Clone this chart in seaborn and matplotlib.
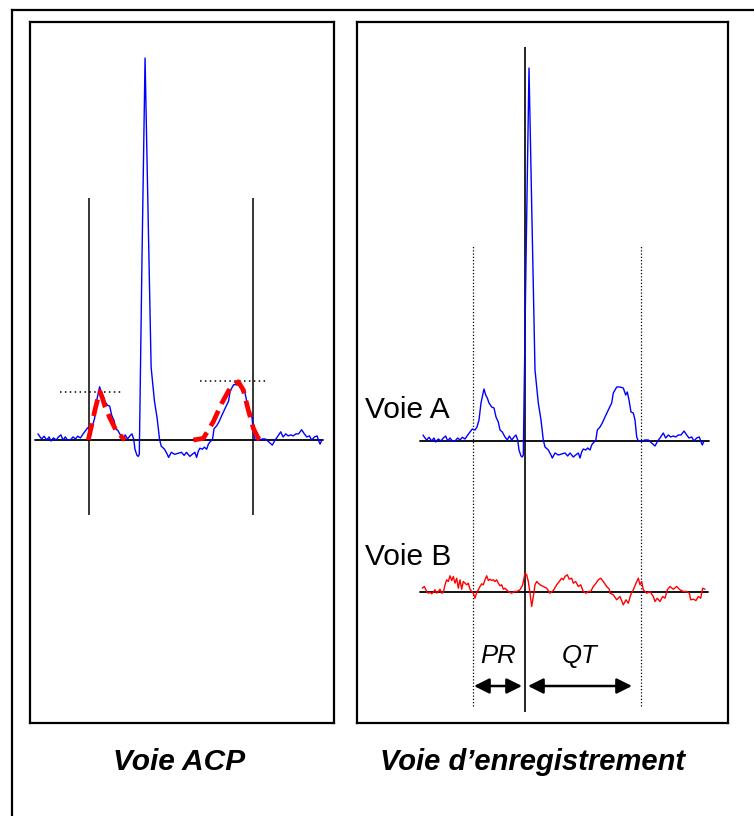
import matplotlib
matplotlib.use("Agg")
import matplotlib.pyplot as plt
import seaborn as sns
import pandas as pd
from matplotlib.lines import Line2D

sns.set_style("white")
plt.rcParams['font.family'] = ['Liberation Sans', 'DejaVu Sans']
plt.rcParams['text.color'] = 'black'

# ---------------- data ----------------
# ECG beat (Voie A / Voie ACP): time (px units) and amplitude (px units)
ecg_t = [0, 2, 3.7, 6, 8.7, 11, 12.7, 15.3, 18, 20.3, 22.7, 24.7, 27, 29.3, 32, 34.7,
         37, 39.3, 42, 44.7, 47, 49.3, 52, 54, 56, 58, 59.7, 61, 62.7, 64.3, 66, 68.7,
         71, 73, 75.3, 77, 79.3, 82, 84.3, 86.3, 88.7, 91, 93, 94.7, 96, 98, 99.3, 100.3,
         103, 106, 109, 112, 115.3, 118, 120.3, 122, 125.3, 128, 129.3, 132, 135.3, 138.7,
         142, 144.7, 147, 150.3, 152.7, 155.3, 157, 158.7, 160.3, 162.7, 164.7, 167, 168.7,
         171, 172.7, 174.3, 177, 179.3, 182, 185.3, 188.7, 190.3, 193.7, 197, 200.3, 202.7,
         204.3, 206, 208, 210.3, 212, 213.7, 215.3, 218.7, 222, 225.3, 228.7, 232, 234.7,
         237, 240.3, 242.7, 245.3, 247.7, 250.3, 252.7, 255.3, 258, 261, 263.7, 266, 268.7,
         271, 273.7, 276.3, 278, 279.3, 281]
ecg_a = [6, 3, 1, 3.7, 0, 3, -1, 2, 0, 3, 5, 0, 3, 0, 0, 3,
         1, 3.7, 2, 6, 9, 12, 11, 14, 21, 38, 46, 52, 46, 43, 38, 34,
         33, 24, 19, 11, 9, 4, 1, 5, 1, 4, 6, 1, -9, -15, -16, -14,
         180, 373, 220, 71, 38, 21, 1, -6, -9, -14, -17, -12, -14, -13,
         -12, -15, -12, -16, -14, -12, -17, -11, -8, -9, -7, -9, -4,
         -1, 0, 11, 14, 18, 24, 31, 38, 48, 54, 54, 53, 46,
         49, 41, 29, 28, 21, 4, 0, 0, 1, 1, -2, -5, 0,
         3, 8, 3, 6, 4, 5, 4, 6, 6, 10, 6, 3, 4,
         0, 3, 4, -1, -4, 0]

# Voie B (recording channel B)
voieB_t = [-0.7, 1.3, 3.7, 5.3, 7, 8.7, 10.3, 12, 13.7, 15.3, 17, 18.7, 20.3, 22, 23.7,
           25.3, 27, 28.7, 30.3, 32, 33.7, 35.3, 37, 38.7, 40.3, 42, 43.7, 45.3, 47, 48.7,
           50.3, 52, 53.7, 55.3, 57, 58.7, 60.3, 62, 63.7, 65.3, 67, 68.7, 70.3, 72, 73.7,
           75.3, 77, 78.7, 80.3, 82, 85.3, 88.7, 91.3, 93.7, 97, 99.7, 102, 103.7, 105.3,
           107, 108.7, 110.3, 112, 113.7, 115.3, 117, 120.3, 123.7, 127, 130.3, 133.7,
           136.3, 138.7, 140.3, 142, 144.3, 146.3, 148.7, 150.3, 152.7, 155.3, 157.7, 160.3,
           163, 165.3, 167.7, 170.3, 173, 175.3, 177.7, 180.3, 183.7, 186.3, 187, 190.3,
           193.7, 197, 200.3, 203, 205.3, 207.7, 210.3, 213, 215.3, 217, 218.7, 220.3,
           223.7, 227, 230.3, 232, 234.3, 237, 239.7, 242, 244.3, 247, 250.3, 253.7, 257,
           260.3, 263.7, 266.3, 267.7, 270.3, 273, 275.3, 277.7, 279.7, 282]
voieB_v = [3.3, 5, 0, -1.7, -0.7, -2.3, -0.7, 1.7, -1.7, 0, 2.3, -1.7, -1, 6.7, 11.7,
           10, 15.7, 11, 15, 8.3, 13.3, 3.3, 11.7, 2.3, 10, 8.3, 6.7, 8.3, 2.3, 0,
           -1.7, -6.7, -1, 1.7, 5, 7.7, 6.7, 11.7, 15.7, 11, 12.3, 11, 11.7, 10, 11.7,
           8.3, 5.7, 6.7, 2.3, 3.3, 0, -1.7, 0, 0, 1.7, 6.7, 18.3, 16.7, 10,
           -1.7, -15, -5, 6.7, 10, 8.3, 6.7, 5, 3.3, -1.7, 1, 6.7,
           10, 13.3, 11.7, 15, 16.7, 12.3, 13.3, 8.3, 10, 5, 6.7, 0,
           -1.7, 0, 0, 5, 8.3, 11.7, 13.3, 10, 5, 2.3, -1.7, -3.3,
           -8.3, -5, -13.3, -8.3, -11.7, -3.3, 1.7, 8.3, 13.3, 6.7, 10, 1.7,
           -1.7, 0, -5, -10, -6.7, -10, -5, -6.7, 1.7, 5, 2.3, 5, 1.7,
           0, 0, -1.7, -8.3, -7.7, -9, -5, -6.7, 3.3, 2.3]

# dashed fitted P and T waves (Voie ACP)
fitP_t = [49.8, 53.0, 56.4, 59.7, 61.4, 63.8, 66.3, 71.3, 77.9, 86.1]
fitP_v = [0, 14, 29.3, 42.3, 47.2, 41, 32.6, 21.2, 8.1, 0]
fitT_t = [153.8, 163.7, 173.6, 181.9, 190.1, 198.3, 203.3, 208.2, 213.2, 218.1, 221.5]
fitT_v = [0, 1.6, 17.9, 35.8, 50.5, 56.9, 48.8, 29.3, 11.4, 1.6, 0]

acp_markers_t = [50.5, 213.2]          # solid vertical markers (Voie ACP)
acp_marker_range = [-73, 236]
acp_peak_levels = [47.2, 58.0]         # dotted peak levels
acp_peak_ranges = [(21.8, 83.9), (160.4, 226.4)]

rec_r_t = 101.5                         # R-wave marker (Voie d'enregistrement)
rec_r_range = [-271, 394]
rec_bounds_t = [49.7, 217.7]            # dotted P onset / T end
rec_bounds_range = [-265, 196]

interval_labels = ['PR', 'QT']
interval_spans = [(51, 99), (105, 209)]

channel_labels = ['Voie A', 'Voie B']
panel_titles = ['Voie ACP', 'Voie d\u2019enregistrement']

# ---------------- figure ----------------
W, H = 754, 816
fig = plt.figure(figsize=(W / 100, H / 100), dpi=100)


def px_axes(x0, y0, x1, y1):
    return fig.add_axes([x0 / W, 1 - y1 / H, (x1 - x0) / W, (y1 - y0) / H])


def style_box(ax):
    ax.set_xticks([])
    ax.set_yticks([])
    for s in ax.spines.values():
        s.set_visible(True)
        s.set_color('black')
        s.set_linewidth(1.6)
    ax.set_facecolor('none')


# outer frame (top and left edges visible)
fig.add_artist(Line2D([12 / W, 12 / W], [0, 1 - 10 / H], transform=fig.transFigure,
                      color='black', lw=1.6, solid_capstyle='projecting'))
fig.add_artist(Line2D([12 / W, 1], [1 - 10 / H, 1 - 10 / H], transform=fig.transFigure,
                      color='black', lw=1.6, solid_capstyle='projecting'))

ecg = pd.DataFrame({'t': ecg_t, 'v': ecg_a})
vb = pd.DataFrame({'t': voieB_t, 'v': voieB_v})

# ---- left panel: Voie ACP ----
L_box = (30, 22, 334, 723)
L_x0, L_sx, L_y0, L_sy = 38, 1.01, 440, 1.024
axL = px_axes(*L_box)
style_box(axL)
axL.set_xlim((L_box[0] - L_x0) / L_sx, (L_box[2] - L_x0) / L_sx)
axL.set_ylim((L_y0 - L_box[3]) / L_sy, (L_y0 - L_box[1]) / L_sy)

axL.axhline(0, xmin=(35 - L_box[0]) / (L_box[2] - L_box[0]),
            xmax=(323 - L_box[0]) / (L_box[2] - L_box[0]), color='black', lw=1.3, zorder=1)
axL.vlines(acp_markers_t, acp_marker_range[0], acp_marker_range[1], color='black', lw=1.1, zorder=1)
for lvl, (a, b) in zip(acp_peak_levels, acp_peak_ranges):
    axL.plot([a, b], [lvl, lvl], color='black', lw=1.1, linestyle=(0, (1, 2.2)), zorder=1)
sns.lineplot(data=ecg, x='t', y='v', ax=axL, color='#0000FF', lw=1.0,
             sort=False, estimator=None, zorder=2)
for ft, fv in [(fitP_t, fitP_v), (fitT_t, fitT_v)]:
    sns.lineplot(x=ft, y=fv, ax=axL, color='#FF0000', lw=3.4, sort=False,
                 estimator=None, zorder=3, dashes=False, linestyle=(0, (3.6, 1.6)))
axL.set_xlabel('')
axL.set_ylabel('')

# ---- right panel: Voie d'enregistrement ----
R_box = (357, 22, 728, 723)
R_x0, R_yA, R_yB = 423, 441, 591.5
axR = px_axes(*R_box)
style_box(axR)
axR.set_xlim(R_box[0] - R_x0, R_box[2] - R_x0)
axR.set_ylim(R_yA - R_box[3], R_yA - R_box[1])

axB = px_axes(*R_box)
axB.set_axis_off()
axB.set_xlim(R_box[0] - R_x0, R_box[2] - R_x0)
axB.set_ylim(R_yB - R_box[3], R_yB - R_box[1])

fr = lambda x: (x - R_box[0]) / (R_box[2] - R_box[0])
axR.axhline(0, xmin=fr(420), xmax=fr(709), color='black', lw=1.3, zorder=1)
axB.axhline(0, xmin=fr(420), xmax=fr(708), color='black', lw=1.3, zorder=1)
axR.vlines(rec_bounds_t, rec_bounds_range[0], rec_bounds_range[1], color='black',
           lw=0.9, linestyle=(0, (1, 1.6)), zorder=1)
axR.vlines([rec_r_t], rec_r_range[0], rec_r_range[1], color='black', lw=1.2, zorder=1)

sns.lineplot(data=ecg, x='t', y='v', ax=axR, color='#0000FF', lw=1.0,
             sort=False, estimator=None, zorder=2)
sns.lineplot(data=vb, x='t', y='v', ax=axB, color='#FF0000', lw=1.0,
             sort=False, estimator=None, zorder=2)
for a in (axR, axB):
    a.set_xlabel('')
    a.set_ylabel('')

# interval arrows and labels
for lab, (a, b) in zip(interval_labels, interval_spans):
    axR.annotate('', xy=(b, -245), xytext=(a, -245),
                 arrowprops=dict(arrowstyle='<|-|>', color='black', lw=1.8,
                                 mutation_scale=23, shrinkA=0, shrinkB=0))
    axR.text((a + b) / 2, -222, lab, ha='center', va='baseline', fontsize=18.5,
             style='italic', color='black')

# channel labels
fig.text(365 / W, 1 - 418 / H, channel_labels[0], fontsize=21.5, va='baseline',
         ha='left', color='black')
fig.text(365 / W, 1 - 565 / H, channel_labels[1], fontsize=21.5, va='baseline',
         ha='left', color='black')

# panel titles
fig.text(179 / W, 1 - 770 / H, panel_titles[0], fontsize=21.5, fontweight='bold',
         style='italic', ha='center', va='baseline', color='black')
fig.text(533 / W, 1 - 770 / H, panel_titles[1], fontsize=21, fontweight='bold',
         style='italic', ha='center', va='baseline', color='black')

fig.savefig('out.png', dpi=100, facecolor='white')
